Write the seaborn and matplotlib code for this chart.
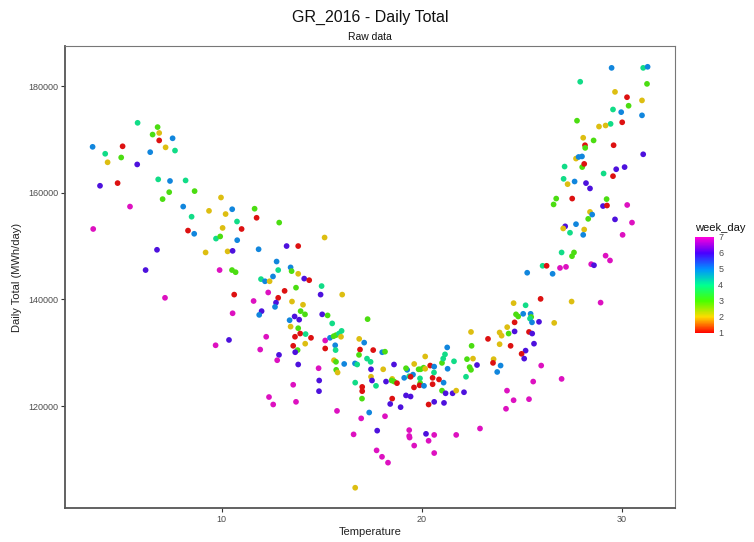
import matplotlib
matplotlib.use("Agg")
import matplotlib.pyplot as plt
from matplotlib.colors import LinearSegmentedColormap, Normalize, to_rgb
from matplotlib.cm import ScalarMappable
from matplotlib.ticker import FuncFormatter
import seaborn as sns
import pandas as pd

# Daily mean temperature (deg C)
temperature = [
    5.80, 6.80, 6.88, 6.55, 6.88, 7.55, 7.20, 7.67, 3.55, 5.05,
    4.18, 4.98, 4.30, 6.43, 5.78, 3.92, 4.80, 5.42, 3.58, 6.83,
    7.42, 8.20, 7.38, 8.65, 7.05, 8.08, 8.50, 8.32, 8.63, 6.77,
    6.20, 9.97, 9.37, 10.20, 10.53, 11.65, 11.75, 10.77, 11.00, 10.05,
    9.72, 9.93, 10.78, 9.20, 10.30, 10.55, 11.85, 9.90, 10.52, 10.70,
    7.17, 10.63, 11.60, 12.33, 10.55, 12.00, 11.88, 10.37, 9.70, 12.23,
    11.93, 12.37, 11.97, 12.17, 12.40,
    12.88, 15.15, 13.25, 13.83, 12.75, 12.83, 13.45, 13.50, 13.83,
    12.57, 14.13, 14.38, 15.00, 14.95, 16.03, 13.72, 13.15, 12.83, 13.52,
    12.72, 12.67, 14.07, 13.95, 14.17, 13.65, 13.88, 13.40, 15.03, 15.30,
    15.53, 17.30, 13.83, 13.45, 13.93, 13.67, 14.20, 14.47, 14.18, 13.58,
    13.80, 13.68, 12.87, 12.78, 13.83, 15.18, 15.42, 15.60, 15.72, 15.87,
    16.00, 15.97, 15.18, 15.68, 15.70, 15.62, 15.72, 15.73, 15.80, 16.13,
    14.85, 14.88, 14.87, 13.58, 12.58, 13.72, 15.77, 16.88, 17.13, 16.92,
    17.58, 16.87, 16.67, 16.78, 17.27, 17.45, 17.47, 18.03, 18.17, 17.47,
    17.52, 16.68, 17.03, 17.03, 17.02, 17.72, 18.22, 18.08, 18.62, 18.53,
    18.50, 18.63, 18.77, 18.53, 18.43, 18.95, 17.38, 16.98, 18.17, 16.60,
    17.78, 17.75, 18.02, 18.32, 16.68, 19.22, 19.45, 19.13, 19.28, 19.22,
    19.38, 19.57, 19.45, 19.63, 19.85, 19.95, 20.10, 20.18, 20.18, 19.92,
    19.93, 19.90, 19.62, 20.12, 20.43, 20.63, 20.55, 20.62, 20.55, 20.87,
    21.10, 21.02, 21.20, 21.55, 21.73, 22.12, 20.35, 20.63, 21.12, 21.02,
    21.08, 21.17, 21.28, 21.30, 21.62, 22.27, 22.40, 22.47, 22.22, 22.47,
    22.50, 22.57, 19.38, 19.38, 19.40, 19.63, 20.22, 20.63, 20.35, 20.63,
    21.73,
    29.50, 31.08, 31.30, 31.27, 27.93, 29.67, 30.27, 31.02, 30.35, 29.57,
    29.98, 31.02, 30.03, 29.45, 29.20, 28.87, 27.77, 28.08, 28.60, 28.17,
    28.18, 29.60, 31.08, 27.72, 27.85, 28.02, 27.15, 28.03, 28.13, 29.73,
    30.15, 29.10, 29.57, 27.10, 27.30, 27.65, 28.22, 28.42, 26.73, 26.60,
    27.53, 29.25, 29.07, 29.27, 30.28, 28.42, 28.53, 28.33, 29.67, 30.52,
    27.18, 27.08, 27.72, 27.42, 28.13, 28.08, 30.05, 27.00, 27.62, 27.52,
    29.20, 29.42, 26.05, 26.25, 26.92, 27.22, 28.48, 28.62, 25.28, 26.55,
    25.95, 27.50, 28.95, 24.60, 25.20, 24.72, 24.83, 25.08, 25.45, 25.48,
    25.42, 24.65, 25.52, 25.87, 26.63, 24.28, 24.35, 24.65, 25.37, 25.53,
    23.90, 24.00, 23.32, 23.90, 24.45, 25.62, 25.20, 25.00, 25.13, 23.60,
    23.57, 23.95, 22.77, 23.78, 25.98, 27.00, 25.58, 24.27, 24.60, 25.37,
    24.22, 22.92,
]

# Daily total consumption (MWh/day)
daily_total = [
    173100, 172300, 171200, 170900, 169800, 170200, 168500, 167900, 168600, 168700,
    167300, 166600, 165700, 167600, 165300, 161300, 161800, 157400, 153200, 162500,
    162200, 162300, 160100, 160300, 158800, 157400, 155500, 152900, 152300, 149300,
    145500, 159100, 156600, 156000, 156900, 157000, 155300, 154600, 153200, 153400,
    151400, 151800, 151100, 148800, 149000, 149100, 149400, 145500, 145500, 145100,
    140300, 140900, 139700, 141300, 137400, 137800, 137100, 132400, 131400, 133000,
    130600, 121700, 143800, 143400, 143400,
    154400, 151600, 150000, 150000, 147100, 145500, 146000, 145300, 144800,
    144300, 143900, 143600, 142500, 140900, 140900, 142200, 141600, 140300, 139600,
    139400, 138600, 139000, 137800, 137200, 136800, 136200, 136100, 137200, 137000,
    135500, 136300, 134600, 134900, 133600, 133000, 133500, 132800, 131700, 131300,
    130500, 130100, 129600, 128600, 127800, 132300, 132800, 133100, 133300, 133600,
    134100, 133000, 130800, 131400, 130500, 128600, 128300, 126800, 126300, 127900,
    127100, 124800, 122800, 124000, 120300, 120800, 119100, 132600, 131900, 130600,
    130500, 129600, 128000, 127800, 128900, 128300, 126900, 130100, 130200, 125500,
    124800, 124400, 123600, 122800, 121400, 123800, 124600, 126900, 127800, 125100,
    124800, 124600, 124300, 121400, 120400, 119800, 118800, 117700, 118100, 114700,
    115400, 111700, 110500, 109400, 104700, 122000, 121800, 125300, 126800, 127100,
    125600, 125900, 125500, 127900, 126900, 126900, 127200, 127000, 129300, 125200,
    124300, 123900, 123500, 123800, 127600, 127400, 125300, 126300, 124100, 125000,
    124400, 122900, 122400, 122400, 122900, 122600, 120300, 120800, 120600, 128100,
    128900, 129700, 131000, 127000, 128400, 128800, 127300, 126800, 125500, 133900,
    131300, 128900, 115500, 114400, 114100, 112600, 114800, 114600, 113500, 111200,
    114600,
    183400, 183400, 183600, 180400, 180800, 178900, 177900, 177300, 176300, 175600,
    175100, 174500, 173200, 172900, 172600, 172400, 173500, 170300, 169800, 168900,
    168400, 168900, 167200, 166400, 166700, 166800, 164900, 164800, 165400, 164400,
    164800, 163600, 163100, 162600, 161600, 162100, 161800, 160800, 158900, 157800,
    158900, 158800, 157500, 157600, 157700, 156400, 155900, 155100, 155000, 154400,
    153700, 153300, 154100, 152500, 153100, 152100, 152100, 148800, 148800, 148100,
    148200, 147300, 146300, 146300, 145900, 146100, 146600, 146400, 145000, 144800,
    140100, 139600, 139400, 139300, 138900, 137200, 136800, 137300, 137300, 136700,
    136400, 135700, 135700, 135800, 135600, 134800, 133600, 134000, 133900, 133600,
    133800, 133200, 132600, 131600, 131300, 131700, 130400, 129800, 128900, 128800,
    128100, 127600, 127700, 126400, 127600, 125100, 124600, 122900, 121100, 121300,
    119500, 115800,
]

# Day of the week (1 = Monday ... 7 = Sunday)
week_day = [
    4, 3, 2, 3, 1, 5, 2, 4, 5, 1,
    4, 3, 2, 5, 6, 6, 1, 7, 7, 4,
    5, 4, 3, 3, 3, 5, 4, 1, 5, 6,
    6, 2, 2, 2, 5, 3, 1, 4, 1, 2,
    4, 3, 5, 2, 2, 6, 5, 7, 3, 3,
    7, 1, 7, 7, 7, 6, 5, 6, 7, 7,
    7, 7, 4, 5, 2,
    3, 2, 6, 1, 5, 4, 5, 3, 2,
    5, 6, 1, 4, 6, 2, 3, 1, 1, 2,
    6, 5, 2, 3, 3, 6, 6, 5, 6, 3,
    4, 3, 3, 2, 1, 1, 4, 1, 2, 1,
    3, 6, 6, 7, 6, 7, 5, 3, 3, 4,
    4, 2, 1, 5, 4, 2, 3, 3, 2, 5,
    7, 6, 6, 7, 7, 7, 7, 2, 5, 1,
    1, 3, 5, 4, 4, 4, 6, 5, 3, 2,
    6, 4, 1, 1, 3, 4, 6, 2, 6, 2,
    3, 3, 1, 1, 6, 6, 5, 7, 7, 7,
    6, 7, 7, 7, 2, 6, 6, 5, 5, 3,
    4, 5, 1, 2, 3, 3, 3, 2, 2, 4,
    3, 1, 1, 5, 1, 5, 1, 4, 1, 1,
    5, 3, 6, 6, 2, 6, 1, 6, 6, 3,
    4, 4, 5, 5, 4, 3, 3, 3, 4, 2,
    3, 2, 7, 7, 7, 7, 6, 7, 7, 7,
    7,
    5, 4, 5, 3, 4, 2, 1, 2, 3, 4,
    5, 5, 1, 4, 2, 2, 3, 2, 3, 1,
    3, 1, 6, 2, 5, 5, 4, 3, 1, 6,
    6, 4, 1, 4, 2, 5, 6, 6, 3, 3,
    1, 3, 6, 1, 7, 2, 5, 3, 6, 7,
    6, 2, 5, 4, 2, 5, 7, 4, 3, 3,
    7, 7, 4, 1, 7, 7, 7, 6, 5, 5,
    1, 2, 7, 2, 4, 3, 3, 5, 5, 3,
    4, 1, 5, 6, 2, 2, 3, 6, 1, 6,
    2, 2, 1, 2, 1, 6, 6, 1, 6, 2,
    1, 5, 6, 5, 7, 7, 7, 7, 7, 7,
    7, 7,
]

x_ticks = [10, 20, 30]
y_ticks = [120000, 140000, 160000, 180000]
day_ticks = [1, 2, 3, 4, 5, 6, 7]
rainbow7 = ["#FF0000", "#FFDB00", "#49FF00", "#00FF92", "#0092FF", "#4900FF", "#FF00DB"]

sns.set_theme(style="white")
plt.rcParams["font.family"] = ["Liberation Sans", "DejaVu Sans"]

df = pd.DataFrame({
    "Temperature": temperature,
    "Daily Total": daily_total,
    "week_day": week_day,
})

bar_cmap = LinearSegmentedColormap.from_list("rainbow7", rainbow7)
# small dots read a little softer than the bar: mix the same hues with grey
grey = to_rgb("#555555")
dot_colours = [tuple(0.8 * c + 0.2 * g for c, g in zip(to_rgb(h), grey)) for h in rainbow7]
dot_cmap = LinearSegmentedColormap.from_list("rainbow7_dots", dot_colours)

W, H = 754, 542
fig = plt.figure(figsize=(W / 100, H / 100), dpi=100)
ax = fig.add_axes([65 / W, 1 - 508 / H, 610 / W, 462 / H])

sns.scatterplot(
    data=df, x="Temperature", y="Daily Total", hue="week_day",
    palette=dot_cmap, hue_norm=(1, 7), s=17, linewidth=0, legend=False, ax=ax,
)

ax.set_xlim(2.17, 32.67)
ax.set_ylim(100900, 187500)
ax.set_xticks(x_ticks)
ax.set_yticks(y_ticks)
ax.yaxis.set_major_formatter(FuncFormatter(lambda v, p: f"{int(v)}"))
ax.tick_params(axis="both", direction="out", length=3, width=0.8,
               color="#333333", labelcolor="#4D4D4D", labelsize=6.5, pad=2,
               left=True, bottom=True)
for side in ("left", "bottom"):
    ax.spines[side].set_color("#555555")
    ax.spines[side].set_linewidth(1.3)
for side in ("top", "right"):
    ax.spines[side].set_color("#777777")
    ax.spines[side].set_linewidth(0.8)

ax.set_xlabel("Temperature", fontsize=8, color="#222222", labelpad=2)
ax.set_ylabel("Daily Total (MWh/day)", fontsize=8, color="#222222", labelpad=4)

fig.text(370 / W, 1 - 17 / H, "GR_2016 - Daily Total", ha="center", va="center",
         fontsize=11.5, color="#111111")
fig.text(370 / W, 1 - 37 / H, "Raw data", ha="center", va="center",
         fontsize=7.5, color="#111111")

# Colour bar legend for week_day
cax = fig.add_axes([695 / W, 1 - 333 / H, 19 / W, 96 / H])
cb = fig.colorbar(ScalarMappable(norm=Normalize(1, 7), cmap=bar_cmap), cax=cax,
                  ticks=day_ticks)
cb.outline.set_visible(False)
cax.tick_params(length=3, width=0.6, color="white", direction="in",
                labelsize=6.5, labelcolor="#4D4D4D", pad=3)
fig.text(695 / W, 1 - 231 / H, "week_day", ha="left", va="baseline",
         fontsize=8, color="#111111")

fig.savefig("out.png", dpi=100)
